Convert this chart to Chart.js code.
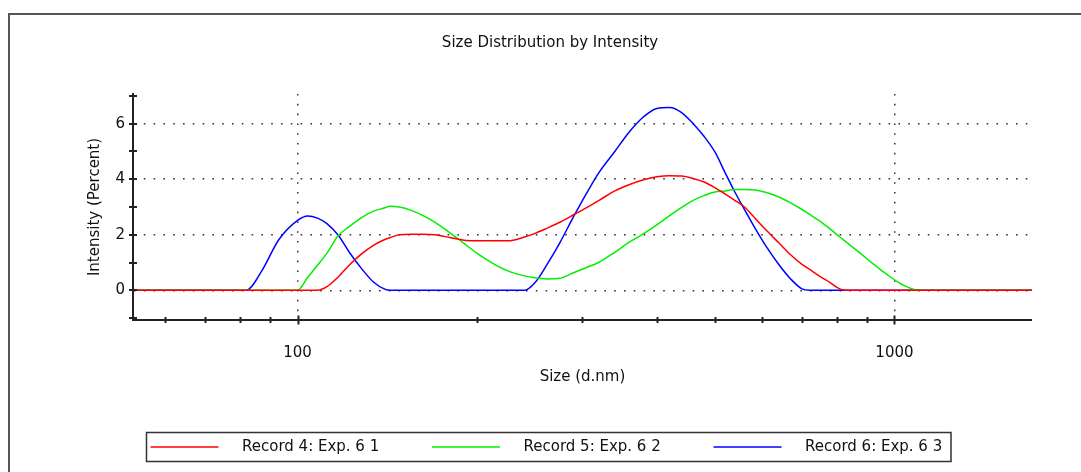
<!DOCTYPE html>
<html>
<head>
<meta charset="utf-8">
<title>Size Distribution by Intensity</title>
<script src="https://cdn.jsdelivr.net/npm/chart.js@4.4.1/dist/chart.umd.min.js"></script>
<style>
  html, body { margin: 0; padding: 0; background: #fff; overflow: hidden; }
  canvas { display: block; }
</style>
</head>
<body>
<canvas id="sizeChart" width="1081" height="472"></canvas>
<script>
// Size (d.nm) sample points
const sizes = [53, 82, 87, 93, 100, 104, 108, 112, 117, 122, 128, 134, 140, 143, 148, 155, 162, 170, 180, 190,
  200, 212, 225, 240, 250, 262, 275, 290, 305, 320, 340, 360, 380, 400, 420, 440, 460, 480, 500, 520,
  540, 560, 585, 610, 640, 670, 700, 720, 750, 780, 810, 830, 870, 920, 970, 1030, 1100, 1120, 1700];

// Intensity (Percent) per record
const record4 = [0, 0, 0, 0, 0, 0, 0, 0.13, 0.48, 0.90, 1.31, 1.62, 1.83, 1.90, 2.00, 2.02, 2.02, 2.00, 1.90, 1.80,
  1.78, 1.78, 1.78, 1.92, 2.05, 2.24, 2.45, 2.72, 2.98, 3.24, 3.58, 3.81, 3.98, 4.09, 4.13, 4.12, 4.03, 3.90, 3.70, 3.47,
  3.24, 3.01, 2.58, 2.16, 1.71, 1.28, 0.93, 0.76, 0.50, 0.28, 0.05, 0, 0, 0, 0, 0, 0, 0, 0];
const record5 = [0, 0, 0, 0, 0, 0.47, 0.90, 1.34, 1.97, 2.29, 2.62, 2.85, 2.97, 3.03, 3.00, 2.88, 2.70, 2.45, 2.07, 1.69,
  1.33, 0.98, 0.70, 0.52, 0.45, 0.41, 0.43, 0.63, 0.82, 1.01, 1.37, 1.74, 2.04, 2.36, 2.69, 2.99, 3.24, 3.41, 3.54, 3.58,
  3.63, 3.63, 3.61, 3.52, 3.36, 3.15, 2.91, 2.74, 2.49, 2.21, 1.92, 1.74, 1.39, 0.96, 0.58, 0.21, 0, 0, 0];
const record6 = [0, 0, 0.68, 1.82, 2.52, 2.68, 2.60, 2.40, 1.98, 1.38, 0.78, 0.30, 0.04, 0, 0, 0, 0, 0, 0, 0,
  0, 0, 0, 0, 0.28, 0.94, 1.71, 2.65, 3.50, 4.25, 5.00, 5.72, 6.25, 6.55, 6.58, 6.40, 6.00, 5.54, 4.99, 4.25,
  3.55, 2.93, 2.21, 1.57, 0.93, 0.41, 0.05, 0, 0, 0, 0, 0, 0, 0, 0, 0, 0, 0, 0];

const seriesLabels = ['Record 4: Exp. 6 1', 'Record 5: Exp. 6 2', 'Record 6: Exp. 6 3'];
const seriesColors = ['#ff0000', '#00f000', '#0000ff'];
const xTickLabels = [100, 1000];
const yTickLabels = [0, 2, 4, 6];
const chartTitle = 'Size Distribution by Intensity';

const FONT = 'DejaVu Sans';
const INK = '#111';
Chart.defaults.font.family = FONT;
Chart.defaults.font.size = 15;
Chart.defaults.color = INK;

// outer frame (only its top and left edges are in view) and the title
const framePlugin = {
  id: 'frame',
  beforeDraw(chart) {
    const { ctx, width, height } = chart;
    ctx.save();
    ctx.strokeStyle = '#555';
    ctx.lineWidth = 2;
    ctx.beginPath();
    ctx.moveTo(9, height);
    ctx.lineTo(9, 14);
    ctx.lineTo(width, 14);
    ctx.stroke();
    ctx.restore();
  },
  afterDraw(chart) {
    const ctx = chart.ctx;
    ctx.save();
    ctx.font = '15px "' + FONT + '"';
    ctx.fillStyle = INK;
    ctx.textAlign = 'center';
    ctx.textBaseline = 'middle';
    ctx.fillText(chartTitle, 550, 43);
    ctx.restore();
  }
};

// small tick marks that cross the axis lines
const crossTicks = {
  id: 'crossTicks',
  afterDraw(chart) {
    const { ctx, chartArea, scales: { x, y } } = chart;
    ctx.save();
    ctx.strokeStyle = '#222';
    ctx.lineWidth = 2;
    ctx.beginPath();
    x.ticks.forEach(t => {
      const m = t.value / Math.pow(10, Math.floor(Math.log10(t.value)));
      if (Math.abs(m - Math.round(m)) > 1e-6) return;
      const len = Math.round(m) === 1 ? 4.5 : 3;
      const px = Math.round(x.getPixelForValue(t.value)) + 0.5;
      ctx.moveTo(px, chartArea.bottom - len);
      ctx.lineTo(px, chartArea.bottom + len);
    });
    y.ticks.forEach(t => {
      const py = Math.round(y.getPixelForValue(t.value));
      ctx.moveTo(chartArea.left - 4, py);
      ctx.lineTo(chartArea.left + 4, py);
    });
    ctx.stroke();
    ctx.restore();
  }
};

// boxed legend along the bottom
const boxLegend = {
  id: 'boxLegend',
  afterDraw(chart) {
    const ctx = chart.ctx;
    const left = 146.5, top = 432.5, w = 804.5, h = 29, step = 281.5;
    const mid = top + h / 2;
    ctx.save();
    ctx.strokeStyle = '#333';
    ctx.lineWidth = 1.5;
    ctx.strokeRect(left, top, w, h);
    ctx.font = '15px "' + FONT + '"';
    ctx.textBaseline = 'middle';
    ctx.textAlign = 'left';
    chart.data.datasets.forEach((ds, i) => {
      const x0 = left + 4 + i * step;
      ctx.strokeStyle = ds.borderColor;
      ctx.lineWidth = 1.5;
      ctx.beginPath();
      ctx.moveTo(x0, mid);
      ctx.lineTo(x0 + 68, mid);
      ctx.stroke();
      ctx.fillStyle = INK;
      ctx.fillText(ds.label, x0 + 91.5, mid);
    });
    ctx.restore();
  }
};

const makeSeries = (vals, i) => ({
  label: seriesLabels[i],
  data: sizes.map((s, k) => ({ x: s, y: vals[k] })),
  borderColor: seriesColors[i],
  backgroundColor: seriesColors[i],
  borderWidth: 1.5,
  pointRadius: 0,
  fill: false,
  cubicInterpolationMode: 'monotone'
});

const dotted = { color: '#222', width: 2, dash: [1.6, 8.2] };

new Chart(document.getElementById('sizeChart'), {
  type: 'line',
  data: {
    datasets: [makeSeries(record4, 0), makeSeries(record5, 1), makeSeries(record6, 2)]
  },
  options: {
    responsive: false,
    animation: false,
    layout: { padding: { left: 86, top: 94, right: 49, bottom: 86 } },
    plugins: {
      legend: { display: false },
      title: { display: false },
      tooltip: { enabled: false }
    },
    scales: {
      x: {
        type: 'logarithmic',
        min: 53,
        max: 1700,
        afterFit: s => { s.height = 66; },
        border: dotted,
        grid: {
          drawTicks: false,
          color: '#333',
          lineWidth: c => (c.tick && xTickLabels.includes(c.tick.value)) ? 1.5 : 0
        },
        ticks: {
          autoSkip: false,
          maxRotation: 0,
          padding: 24,
          callback: v => xTickLabels.includes(v) ? String(v) : ''
        },
        title: { display: true, text: 'Size (d.nm)', padding: 0 }
      },
      y: {
        min: -1.07,
        max: 7.07,
        afterFit: s => { s.width = 47; },
        border: dotted,
        grid: {
          drawTicks: false,
          color: '#333',
          lineWidth: c => (c.tick && yTickLabels.includes(c.tick.value)) ? 1.5 : 0
        },
        ticks: {
          stepSize: 1,
          includeBounds: false,
          padding: 8,
          callback: v => yTickLabels.includes(v) ? String(v) : ''
        },
        title: { display: true, text: 'Intensity (Percent)', padding: 0 }
      }
    }
  },
  plugins: [framePlugin, crossTicks, boxLegend]
});
</script>
</body>
</html>
